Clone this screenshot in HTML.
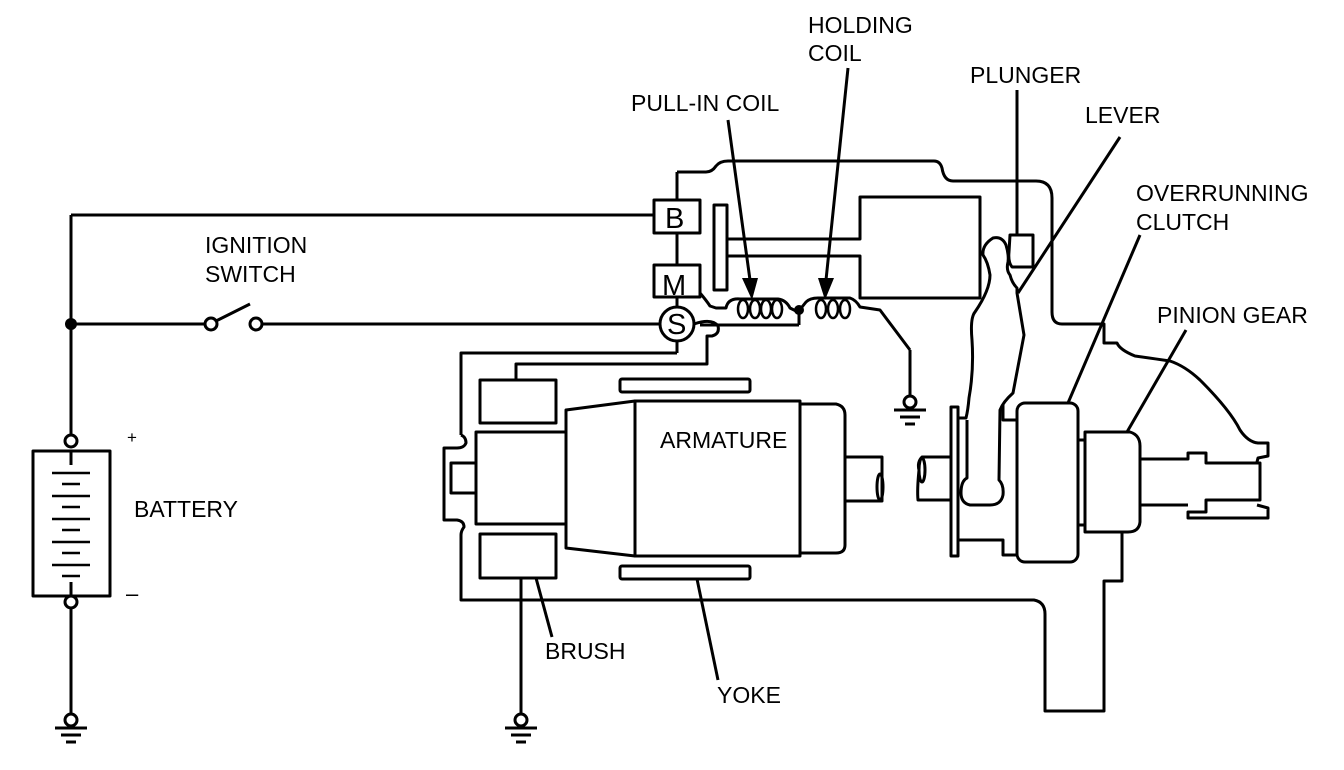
<!DOCTYPE html>
<html><head><meta charset="utf-8"><style>
body{margin:0;background:#fff}
svg{display:block}
text{font-family:"Liberation Sans",Arial,sans-serif;font-size:23px;fill:#000}
</style></head><body>
<svg width="1344" height="770" viewBox="0 0 1344 770" xmlns="http://www.w3.org/2000/svg">
<g fill="none" stroke="#000" stroke-width="3" stroke-linejoin="round">
<!-- left circuit -->
<line x1="71" y1="215" x2="654" y2="215"/>
<line x1="71" y1="215" x2="71" y2="435"/>
<line x1="71" y1="608" x2="71" y2="713"/>
<circle cx="71" cy="441" r="6"/><circle cx="71" cy="602" r="6"/>
<rect x="33" y="451" width="77" height="145"/>
<g stroke-width="2.5">
<line x1="52" y1="473" x2="90" y2="473"/><line x1="62" y1="484" x2="80" y2="484"/>
<line x1="52" y1="496" x2="90" y2="496"/><line x1="62" y1="507" x2="80" y2="507"/>
<line x1="52" y1="519" x2="90" y2="519"/><line x1="62" y1="530" x2="80" y2="530"/>
<line x1="52" y1="542" x2="90" y2="542"/><line x1="62" y1="553" x2="80" y2="553"/>
<line x1="52" y1="565" x2="90" y2="565"/><line x1="62" y1="576" x2="80" y2="576"/>
</g>
<line x1="71" y1="451" x2="71" y2="465"/><line x1="71" y1="582" x2="71" y2="596"/>
<line x1="71" y1="324" x2="205" y2="324"/>
<circle cx="211" cy="324" r="6"/><circle cx="256" cy="324" r="6"/>
<line x1="216" y1="321" x2="250" y2="304"/>
<line x1="262" y1="324" x2="660" y2="324"/>
<!-- grounds -->
<circle cx="71" cy="720" r="6"/><line x1="55" y1="728" x2="87" y2="728"/><line x1="61" y1="735" x2="81" y2="735"/><line x1="66" y1="742" x2="76" y2="742"/>
<line x1="521" y1="578" x2="521" y2="713"/>
<circle cx="521" cy="720" r="6"/><line x1="505" y1="728" x2="537" y2="728"/><line x1="511" y1="735" x2="531" y2="735"/><line x1="516" y1="742" x2="526" y2="742"/>
<line x1="910" y1="350" x2="910" y2="396"/>
<circle cx="910" cy="402" r="6"/><line x1="894" y1="410" x2="926" y2="410"/><line x1="900" y1="417" x2="920" y2="417"/><line x1="905" y1="424" x2="915" y2="424"/>
<!-- solenoid terminals -->
<rect x="654" y="200" width="46" height="33"/>
<rect x="654" y="265" width="46" height="32"/>
<circle cx="677" cy="324" r="17"/>
<line x1="677" y1="172" x2="677" y2="200"/><line x1="677" y1="233" x2="677" y2="265"/><line x1="677" y1="297" x2="677" y2="307"/>
<line x1="677" y1="341" x2="677" y2="353"/>
<path d="M461,435 L461,353 L677,353"/>
<path d="M677,172 L706,172 Q712,172 716,166 Q720,161 728,161 L934,161 Q940,161 942,168 Q944,181 953,181 L1036,181 Q1052,181 1052,198 L1052,312 Q1052,324 1062,324 L1104,324 L1104,343 L1117,343 Q1120,350 1135,356 Q1150,358 1170,361 Q1185,366 1200,380 Q1230,410 1240,430 Q1248,442 1258,443 L1268,443 L1268,456 L1258,458 L1257,462"/>
<!-- S wire bulge and coil -->
<path d="M694,324 Q712,318 718,326 Q720,334 712,336 L707,336 L707,364 L516,364 L516,380"/>
<path d="M700,293 Q706,300 710,306 L716,308 L726,308 Q728,298 740,299"/>
<path d="M740,299 L778,299 Q786,300 790,308 L798,312 L806,302 Q810,298 818,298 L850,298 Q856,300 860,307 L880,310 L910,350"/>
<g stroke-width="2.5">
<ellipse cx="743" cy="309" rx="5" ry="9"/><ellipse cx="755" cy="309" rx="5" ry="9"/><ellipse cx="766" cy="309" rx="5" ry="9"/><ellipse cx="777" cy="309" rx="5" ry="9"/>
<ellipse cx="821" cy="309" rx="5" ry="9"/><ellipse cx="833" cy="309" rx="5" ry="9"/><ellipse cx="845" cy="309" rx="5" ry="9"/>
</g>
<line x1="700" y1="325" x2="799" y2="325"/><line x1="799" y1="312" x2="799" y2="325"/>
<!-- plunger core -->
<rect x="714" y="205" width="13" height="85"/>
<path d="M727,239 L860,239 L860,197 L980,197 L980,298 L860,298 L860,256 L727,256"/>
<!-- motor -->
<path d="M461,435 Q466,437 466,443 Q464,448 457,448 L444,448 L444,520 L457,520 Q464,521 464,527 Q461,531 461,535 L461,600 L1034,600 Q1045,602 1045,614 L1045,711 L1104,711 L1104,581 L1122,581 L1122,532"/>
<rect x="480" y="380" width="76" height="43"/>
<rect x="480" y="534" width="76" height="44"/>
<rect x="476" y="432" width="90" height="92"/>
<rect x="451" y="463" width="25" height="30"/>
<path d="M566,410 L635,401 L635,556 L566,548 Z"/>
<rect x="635" y="401" width="165" height="155"/>
<path d="M800,404 L836,404 Q845,406 845,415 L845,545 Q845,553 836,553 L800,553"/>
<rect x="620" y="379" width="130" height="13" rx="2"/>
<rect x="620" y="566" width="130" height="13" rx="2"/>
<path d="M845,457 L882,457 L882,501 L845,501"/>
<ellipse cx="880" cy="487" rx="3" ry="13"/>
<path d="M952,457 L922,457 Q917,462 919,470 Q917,490 918,500 L952,500"/>
<ellipse cx="922" cy="470" rx="3" ry="12"/>
<!-- drive end -->
<rect x="951" y="407" width="7" height="149"/>
<path d="M958,540 L1003,540 L1003,555 L1017,555"/>
<rect x="1017" y="403" width="61" height="159" rx="8"/>
<rect x="1078" y="440" width="7" height="85"/>
<path d="M1085,432 L1130,432 Q1140,435 1140,446 L1140,522 Q1139,532 1128,532 L1085,532 Z"/>
<path d="M1140,459 L1188,459 L1188,453 L1206,453 L1206,463 L1260,463 L1260,500 L1206,500 L1206,512 L1188,512 L1188,518 L1268,518 L1268,508 L1257,505"/>
<line x1="1188" y1="505" x2="1140" y2="505"/>
<!-- lever -->
<path d="M958,418 L966,418 Q968,410 969,398 Q974,370 972,340 Q970,318 975,312 Q990,290 990,275 Q988,262 983,255 Q982,245 993,238 Q1002,236 1006,245 Q1009,255 1008,262 Q1006,270 1010,275 Q1012,283 1017,288 L1017,293 L1024,335 L1013,393 Q1003,402 1000,410 L999,480 Q1004,485 1003,495 Q1001,505 990,505 L970,505 Q961,503 961,493 Q961,481 967,478 L967,420"/>
<path d="M1003,405 L1003,420 L1017,420"/>
<path d="M1010,235 L1033,235 L1033,267 L1012,267 Q1008,262 1009,252 Z"/>
<line x1="1017" y1="90" x2="1017" y2="235"/>
<!-- leader lines -->
<line x1="1120" y1="137" x2="1018" y2="293"/>
<line x1="1140" y1="235" x2="1068" y2="403"/>
<line x1="1186" y1="330" x2="1127" y2="432"/>
<line x1="536" y1="578" x2="552" y2="637"/>
<line x1="697" y1="579" x2="718" y2="680"/>
<line x1="728" y1="120" x2="750" y2="280"/>
<line x1="848" y1="68" x2="826" y2="280"/>
</g>
<path d="M742,278 L758,278 L752,300 Z"/>
<path d="M818,278 L834,278 L825,300 Z"/>
<circle cx="71" cy="324" r="6"/>
<circle cx="799" cy="310" r="5"/>
<text x="662" y="295" style="font-size:29px">M</text>
<text x="665" y="228" style="font-size:29px">B</text>
<text x="667" y="334" style="font-size:29px">S</text>
<text x="808" y="33">HOLDING</text>
<text x="808" y="61">COIL</text>
<text x="631" y="111">PULL-IN COIL</text>
<text x="970" y="83">PLUNGER</text>
<text x="1085" y="123">LEVER</text>
<text x="1136" y="201">OVERRUNNING</text>
<text x="1136" y="230">CLUTCH</text>
<text x="1157" y="323">PINION GEAR</text>
<text x="205" y="253">IGNITION</text>
<text x="205" y="282">SWITCH</text>
<text x="134" y="517">BATTERY</text>
<text x="127" y="443" style="font-size:17px">+</text>
<text x="126" y="601" style="font-size:22px">–</text>
<text x="660" y="448">ARMATURE</text>
<text x="545" y="659">BRUSH</text>
<text x="717" y="703">YOKE</text>
</svg>
</body></html>
